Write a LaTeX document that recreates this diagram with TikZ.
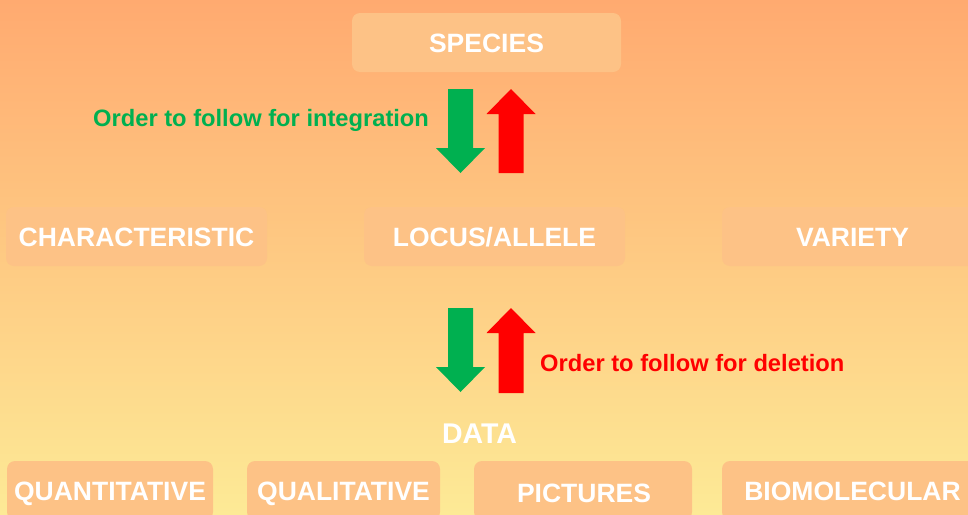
\documentclass[tikz,border=0pt]{standalone}
\usepackage{fontspec}
\setmainfont{Liberation Sans}
\definecolor{bgtop}{RGB}{255,170,112}
\definecolor{bgbot}{RGB}{253,234,150}
\definecolor{boxfill}{RGB}{253,194,134}
\definecolor{grn}{RGB}{0,176,80}
\definecolor{rd}{RGB}{255,0,0}
\tikzset{
  card/.style={fill=boxfill, rounded corners=8pt, minimum height=59pt, inner sep=0pt,
    text=white, font=\fontsize{26.5}{30}\selectfont\bfseries, text height=19pt, text depth=0pt},
  label/.style={inner sep=0pt, anchor=west, font=\fontsize{23.7}{28}\selectfont\bfseries, text height=17pt, text depth=0pt},
  garrow/.style={fill=grn},
  rarrow/.style={fill=rd}
}
\begin{document}
\begin{tikzpicture}[x=1pt,y=-1pt]
\useasboundingbox (0,0) rectangle (968,514);
\clip (0,0) rectangle (968,514);
\shade[top color=bgtop, bottom color=bgbot] (0,0) rectangle (968,514);

\node[card, minimum width=269pt] (species) at (486.5,42.5) {SPECIES};

\node[card, minimum width=261pt] (charac) at (136.5,236.5) {CHARACTERISTIC};
\node[card, minimum width=261pt] (locus) at (494.5,236.5) {LOCUS/ALLELE};
\node[card, minimum width=261pt] (variety) at (852.5,236.5) {VARIETY};

\node[card, minimum width=206pt] (quant) at (110,490.5) {QUANTITATIVE};
\node[card, minimum width=193pt] (qual) at (343.5,490.5) {QUALITATIVE};
\node[card, minimum width=218pt] (pict) at (583,490.5) {};
\node[text=white, font=\fontsize{26.5}{30}\selectfont\bfseries, inner sep=0pt, text height=19pt, text depth=0pt] (picttext) at (584,493) {PICTURES};
\node[card, minimum width=261pt] (biomol) at (852.5,490.5) {BIOMOLECULAR};

\node[text=white, inner sep=0pt, font=\fontsize{28.5}{32}\selectfont\bfseries, text height=20.5pt, text depth=0pt] (data) at (479.5,433) {DATA};

\node[label, text=grn] (integ) at (93,118) {Order to follow for integration};
\node[label, text=rd] (delet) at (540,363) {Order to follow for deletion};

% arrows between SPECIES and the middle row
\fill[garrow] (448,89) -- (473,89) -- (473,148) -- (485,148) -- (460.5,173) -- (436,148) -- (448,148) -- cycle;
\fill[rarrow] (498.5,173) -- (523.5,173) -- (523.5,114) -- (535.5,114) -- (511,89) -- (486.5,114) -- (498.5,114) -- cycle;

% arrows between the middle row and DATA
\fill[garrow] (448,308) -- (473,308) -- (473,367) -- (485,367) -- (460.5,392) -- (436,367) -- (448,367) -- cycle;
\fill[rarrow] (498.5,393) -- (523.5,393) -- (523.5,333) -- (535.5,333) -- (511,308) -- (486.5,333) -- (498.5,333) -- cycle;
\end{tikzpicture}
\end{document}
